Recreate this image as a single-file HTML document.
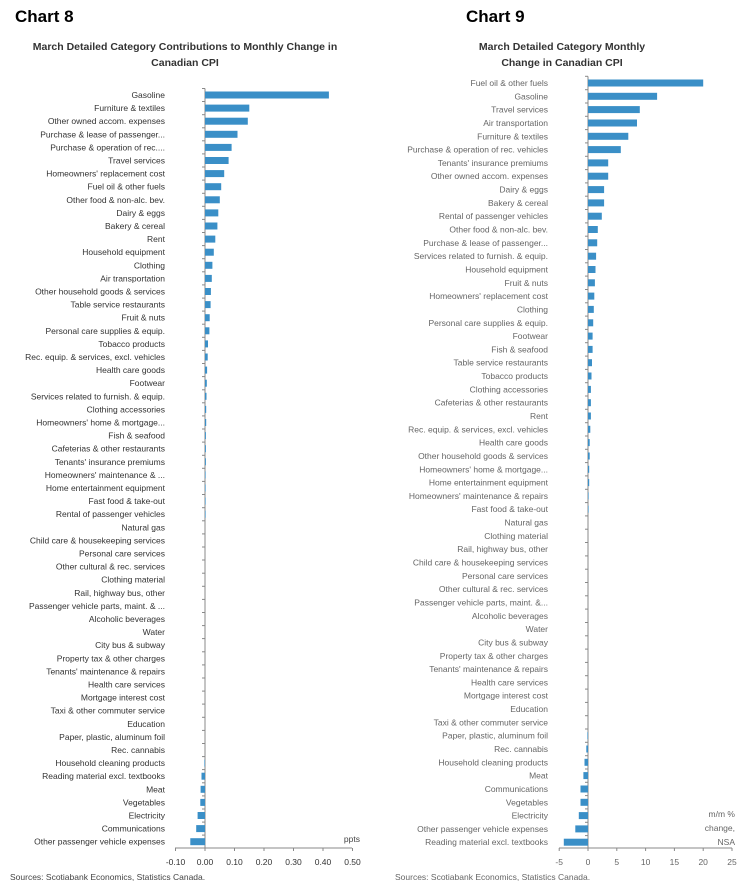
<!DOCTYPE html>
<html><head><meta charset="utf-8"><style>
body{margin:0;background:#fff;width:749px;height:892px;overflow:hidden;font-family:"Liberation Sans",sans-serif}
svg{position:absolute;left:0;top:0}
</style></head><body>
<svg id="s" width="749" height="892" xmlns="http://www.w3.org/2000/svg" font-family="Liberation Sans, sans-serif">
<text x="15" y="22" font-size="17" font-weight="bold" fill="#000">Chart 8</text>
<text x="466" y="22" font-size="17" font-weight="bold" fill="#000">Chart 9</text>
<text x="185" y="50" font-size="10.5" font-weight="bold" fill="#333" text-anchor="middle">March Detailed Category Contributions to Monthly Change in</text>
<text x="185" y="66" font-size="10.5" font-weight="bold" fill="#333" text-anchor="middle">Canadian CPI</text>
<text x="562" y="50" font-size="10.5" font-weight="bold" fill="#333" text-anchor="middle">March Detailed Category Monthly</text>
<text x="562" y="66" font-size="10.5" font-weight="bold" fill="#333" text-anchor="middle">Change in Canadian CPI</text>
<text x="10" y="880" font-size="8.5" fill="#444">Sources: Scotiabank Economics, Statistics Canada.</text>
<text x="395" y="880" font-size="8.5" fill="#666">Sources: Scotiabank Economics, Statistics Canada.</text>
<text x="360" y="842" font-size="8.5" fill="#444" text-anchor="end">ppts</text>
<text x="735" y="817" font-size="8.5" fill="#666" text-anchor="end">m/m %</text>
<text x="735" y="831" font-size="8.5" fill="#666" text-anchor="end">change,</text>
<text x="735" y="845" font-size="8.5" fill="#666" text-anchor="end">NSA</text>
<g id="g"></g>
</svg>
<script>
var c8=[["Gasoline",.42],["Furniture & textiles",.15],["Other owned accom. expenses",.145],["Purchase & lease of passenger...",.11],["Purchase & operation of rec....",.09],["Travel services",.08],["Homeowners' replacement cost",.065],["Fuel oil & other fuels",.055],["Other food & non-alc. bev.",.05],["Dairy & eggs",.045],["Bakery & cereal",.042],["Rent",.035],["Household equipment",.03],["Clothing",.025],["Air transportation",.023],["Other household goods & services",.02],["Table service restaurants",.019],["Fruit & nuts",.016],["Personal care supplies & equip.",.015],["Tobacco products",.01],["Rec. equip. & services, excl. vehicles",.009],["Health care goods",.007],["Footwear",.006],["Services related to furnish. & equip.",.005],["Clothing accessories",.004],["Homeowners' home & mortgage...",.004],["Fish & seafood",.003],["Cafeterias & other restaurants",.003],["Tenants' insurance premiums",.003],["Homeowners' maintenance & ...",.002],["Home entertainment equipment",.002],["Fast food & take-out",.002],["Rental of passenger vehicles",.002],["Natural gas",.001],["Child care & housekeeping services",.001],["Personal care services",.001],["Other cultural & rec. services",.001],["Clothing material",.001],["Rail, highway bus, other",0],["Passenger vehicle parts, maint. & ...",0],["Alcoholic beverages",0],["Water",0],["City bus & subway",0],["Property tax & other charges",0],["Tenants' maintenance & repairs",0],["Health care services",0],["Mortgage interest cost",0],["Taxi & other commuter service",0],["Education",0],["Paper, plastic, aluminum foil",0],["Rec. cannabis",0],["Household cleaning products",-.002],["Reading material excl. textbooks",-.012],["Meat",-.015],["Vegetables",-.016],["Electricity",-.025],["Communications",-.03],["Other passenger vehicle expenses",-.05]];
var c9=[["Fuel oil & other fuels",20],["Gasoline",12],["Travel services",9],["Air transportation",8.5],["Furniture & textiles",7],["Purchase & operation of rec. vehicles",5.7],["Tenants' insurance premiums",3.5],["Other owned accom. expenses",3.5],["Dairy & eggs",2.8],["Bakery & cereal",2.8],["Rental of passenger vehicles",2.4],["Other food & non-alc. bev.",1.7],["Purchase & lease of passenger...",1.6],["Services related to furnish. & equip.",1.4],["Household equipment",1.3],["Fruit & nuts",1.2],["Homeowners' replacement cost",1.1],["Clothing",1],["Personal care supplies & equip.",.9],["Footwear",.8],["Fish & seafood",.8],["Table service restaurants",.7],["Tobacco products",.6],["Clothing accessories",.5],["Cafeterias & other restaurants",.5],["Rent",.5],["Rec. equip. & services, excl. vehicles",.4],["Health care goods",.3],["Other household goods & services",.3],["Homeowners' home & mortgage...",.2],["Home entertainment equipment",.2],["Homeowners' maintenance & repairs",.1],["Fast food & take-out",.1],["Natural gas",.05],["Clothing material",.05],["Rail, highway bus, other",0],["Child care & housekeeping services",0],["Personal care services",0],["Other cultural & rec. services",0],["Passenger vehicle parts, maint. &...",0],["Alcoholic beverages",0],["Water",0],["City bus & subway",0],["Property tax & other charges",0],["Tenants' maintenance & repairs",0],["Health care services",0],["Mortgage interest cost",0],["Education",0],["Taxi & other commuter service",-.05],["Paper, plastic, aluminum foil",-.1],["Rec. cannabis",-.3],["Household cleaning products",-.6],["Meat",-.8],["Communications",-1.3],["Vegetables",-1.3],["Electricity",-1.6],["Other passenger vehicle expenses",-2.2],["Reading material excl. textbooks",-4.2]];
var h='';
function chart(d,y0,st,zx,sc,lx,col,ax0,ax1,ticks,tl){
 var top=y0-st/2, bot=848;
 h+='<line x1="'+zx+'" y1="'+top+'" x2="'+zx+'" y2="'+bot+'" stroke="#888" stroke-width="1"/>';
 for(var i=0;i<d.length;i++){
  var y=y0+i*st, v=d[i][1], w=v*sc;
  var x=w>=0?zx:zx+w;
  if(Math.abs(w)>0.3) h+='<rect x="'+x.toFixed(1)+'" y="'+(y-3.5).toFixed(1)+'" width="'+Math.abs(w).toFixed(1)+'" height="7" fill="#3a8fc7"/>';
  h+='<line x1="'+(zx-3)+'" y1="'+(y-st/2).toFixed(1)+'" x2="'+zx+'" y2="'+(y-st/2).toFixed(1)+'" stroke="#888"/>';
  h+='<text x="'+lx+'" y="'+(y+3).toFixed(1)+'" font-size="8.5" fill="'+col+'" text-anchor="end">'+d[i][0].replace(/&/g,'&amp;')+'</text>';
 }
 h+='<line x1="'+ax0+'" y1="'+bot+'" x2="'+ax1+'" y2="'+bot+'" stroke="#888"/>';
 for(var j=0;j<ticks.length;j++){
  var tx=ticks[j];
  h+='<line x1="'+tx+'" y1="'+bot+'" x2="'+tx+'" y2="'+(bot+3)+'" stroke="#888"/>';
  h+='<text x="'+tx+'" y="865" font-size="8.5" fill="'+col+'" text-anchor="middle">'+tl[j]+'</text>';
 }
}
var t8=[],t9=[];for(var k=0;k<7;k++)t8.push(175.5+k*29.5);for(k=0;k<7;k++)t9.push(559.2+k*28.8);
chart(c8,95,13.1,205,295,165,"#333",175,352,t8,["-0.10","0.00","0.10","0.20","0.30","0.40","0.50"]);
chart(c9,83,13.32,588,5.76,548,"#666",559,732,t9,["-5","0","5","10","15","20","25"]);
document.getElementById('g').innerHTML=h;
</script>
</body></html>
